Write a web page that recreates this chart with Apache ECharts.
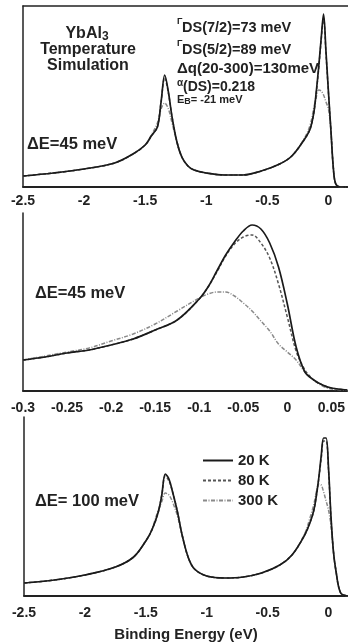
<!DOCTYPE html>
<html>
<head>
<meta charset="utf-8">
<script src="https://cdn.jsdelivr.net/npm/echarts@6/dist/echarts.min.js"></script>
<style>
  html, body { margin: 0; padding: 0; background: #fff; }
  #chart { width: 348px; height: 642px; }
</style>
</head>
<body>
<div id="chart"></div>
<script>
// energy grids (eV)
var wideEnergy = [-2.5, -2.25, -2.0, -1.75, -1.6, -1.5, -1.45, -1.4, -1.37, -1.34, -1.31, -1.28, -1.24, -1.2, -1.15, -1.1, -1.0, -0.85, -0.7, -0.55, -0.4, -0.3, -0.2, -0.15, -0.12, -0.1, -0.08, -0.06, -0.04, -0.02, 0.0, 0.02, 0.04, 0.06, 0.1, 0.16]
var narrowEnergy = [-0.3, -0.275, -0.25, -0.225, -0.2, -0.175, -0.15, -0.125, -0.1, -0.09, -0.08, -0.07, -0.06, -0.05, -0.04, -0.03, -0.02, -0.01, 0.0, 0.01, 0.02, 0.03, 0.04, 0.05, 0.068]

// intensities (arb. units), top panel  dE=45 meV
var top20K = [11, 14, 18, 24, 33, 42, 51, 60, 85, 112, 95, 70, 45, 30, 21, 17, 14, 12, 12, 16, 23, 31, 47, 58, 74, 95, 120, 148, 173, 135, 95, 57, 19, 3, 0, 0]
var top80K = [11, 14, 18, 24, 33, 42, 51, 60, 85, 109, 94, 70, 45, 30, 21, 17, 14, 12, 12, 16, 23, 31, 47, 58, 74, 94, 118, 146, 169, 133, 94, 57, 19, 3, 0, 0]
var top300K = [11, 14, 18, 24, 33, 42, 52, 64, 78, 84, 78, 64, 45, 30, 21, 17, 14, 12, 12, 16, 23, 31, 48, 62, 79, 90, 97, 96, 92, 85, 78, 57, 19, 3, 0, 0]

// middle panel (zoom on the Kondo peak)
var mid20K = [31, 34, 38, 41, 46, 52, 61, 71, 92, 104, 120, 136, 149, 160, 166, 162, 148, 124, 87, 44, 19, 11, 6, 3, 1]
var mid80K = [31, 34, 38, 41, 46, 52, 61, 71, 92, 104, 119, 135, 147, 154, 156, 148, 133, 107, 74, 40, 21, 11, 6, 3, 1]
var mid300K = [31, 35, 39, 43, 50, 57, 67, 80, 93, 97, 99, 99, 95, 88, 80, 70, 60, 47, 39, 31, 19, 11, 5, 2, 1]

// bottom panel  dE=100 meV
var bot20K = [13, 16, 21, 29, 39, 55, 66, 83, 100, 122, 117, 104, 84, 60, 38, 27, 20, 18, 19, 23, 31, 41, 60, 74, 86, 100, 118, 140, 158, 158, 128, 80, 45, 26, 3, 0]
var bot80K = [13, 16, 21, 29, 39, 55, 66, 83, 100, 120, 115, 104, 84, 60, 38, 27, 20, 18, 19, 23, 31, 41, 60, 74, 86, 100, 117, 137, 155, 155, 126, 79, 45, 26, 3, 0]
var bot300K = [13, 16, 21, 29, 39, 55, 67, 85, 94, 103, 101, 94, 80, 60, 38, 27, 20, 18, 19, 23, 31, 41, 61, 79, 92, 104, 112, 111, 104, 95, 86, 71, 45, 26, 3, 0]

var legendNames = ['20 K', '80 K', '300 K']

var ink = '#222'
var family = 'Liberation Sans, Arial, sans-serif'
var labelFont = { color: ink, fontSize: 14, fontWeight: 'bold', fontFamily: family }
var styles = {
  '20 K': { color: '#1a1a1a', width: 1.7, type: 'solid' },
  '80 K': { color: '#555', width: 1.5, type: [3, 2] },
  '300 K': { color: '#8a8a8a', width: 1.5, type: [4, 1.5, 1, 1.5] }
}

function pairs(xs, ys) {
  return xs.map(function (x, i) { return [x, ys[i]] })
}

function curve(name, idx, xs, ys) {
  return {
    name: name,
    type: 'line',
    xAxisIndex: idx,
    yAxisIndex: idx,
    data: pairs(xs, ys),
    showSymbol: false,
    symbol: 'none',
    smooth: 0.35,
    lineStyle: styles[name],
    itemStyle: { color: styles[name].color },
    z: name === '20 K' ? 5 : 4
  }
}

function bottomAxis(idx, min, max, interval, margin) {
  return {
    type: 'value', gridIndex: idx, position: 'bottom',
    min: min, max: max, interval: interval,
    axisLine: { show: true, onZero: false, lineStyle: { color: ink, width: 1.8 } },
    axisTick: { show: false },
    splitLine: { show: false },
    axisLabel: Object.assign({ margin: margin, showMaxLabel: false }, labelFont)
  }
}

function sideAxis(idx, max) {
  return {
    type: 'value', gridIndex: idx, position: 'left', min: 0, max: max,
    axisLine: { show: true, onZero: false, lineStyle: { color: ink, width: 1.5 } },
    axisTick: { show: false }, axisLabel: { show: false }, splitLine: { show: false }
  }
}

function note(x, y, text, size, align) {
  return {
    type: 'text', x: x, y: y,
    style: {
      text: text, fill: ink, align: align || 'left', verticalAlign: 'middle',
      fontSize: size, fontWeight: 'bold', fontFamily: family
    }
  }
}

var chart = echarts.init(document.getElementById('chart'))

var topBorder = {
  type: 'value', gridIndex: 0, position: 'top', min: -2.5, max: 0.16,
  axisLine: { show: true, onZero: false, lineStyle: { color: ink, width: 1.5 } },
  axisTick: { show: false }, axisLabel: { show: false }, splitLine: { show: false }
}

chart.setOption({
  backgroundColor: '#fff',
  animation: false,
  grid: [
    { left: 23, right: 0, top: 6, height: 181 },
    { left: 23, right: 0, top: 213, height: 178 },
    { left: 24, right: 0, top: 417, height: 179 }
  ],
  xAxis: [
    bottomAxis(0, -2.5, 0.16, 0.5, 7),
    bottomAxis(1, -0.3, 0.068, 0.05, 10),
    bottomAxis(2, -2.5, 0.16, 0.5, 10),
    topBorder
  ],
  yAxis: [sideAxis(0, 181), sideAxis(1, 178), sideAxis(2, 179)],
  legend: {
    data: legendNames,
    orient: 'vertical',
    left: 197, top: 448,
    itemWidth: 30, itemHeight: 14, itemGap: 5,
    itemStyle: { opacity: 0 },
    textStyle: Object.assign({}, labelFont, { fontSize: 15 })
  },
  series: [
    curve('300 K', 0, wideEnergy, top300K),
    curve('80 K', 0, wideEnergy, top80K),
    curve('20 K', 0, wideEnergy, top20K),
    curve('300 K', 1, narrowEnergy, mid300K),
    curve('80 K', 1, narrowEnergy, mid80K),
    curve('20 K', 1, narrowEnergy, mid20K),
    curve('300 K', 2, wideEnergy, bot300K),
    curve('80 K', 2, wideEnergy, bot80K),
    curve('20 K', 2, wideEnergy, bot20K)
  ],
  graphic: [
    {
      type: 'text', x: 87, y: 34,
      style: {
        text: 'YbAl{s|3}', fill: ink, align: 'center', verticalAlign: 'middle',
        fontSize: 16, fontWeight: 'bold', fontFamily: family,
        rich: { s: { fontSize: 12, fontWeight: 'bold', padding: [6, 0, 0, 0], fill: ink } }
      }
    },
    note(88, 50, 'Temperature', 16, 'center'),
    note(88, 66, 'Simulation', 16, 'center'),
    note(27, 144, 'ΔE=45 meV', 16.5),
    note(177, 22, 'Γ', 9),
    note(182, 28, 'DS(7/2)=73 meV', 14.5),
    note(177, 44, 'Γ', 9),
    note(182, 50, 'DS(5/2)=89 meV', 14.5),
    note(177, 69, 'Δq(20-300)=130meV', 15),
    note(177, 83, 'α', 10),
    note(183, 87, '(DS)=0.218', 14),
    {
      type: 'text', x: 177, y: 100,
      style: {
        text: 'E{s|B}= -21 meV', fill: ink, align: 'left', verticalAlign: 'middle',
        fontSize: 11, fontWeight: 'bold', fontFamily: family,
        rich: { s: { fontSize: 9, fontWeight: 'bold', padding: [4, 0, 0, 0], fill: ink } }
      }
    },
    note(35, 293, 'ΔE=45 meV', 16.5),
    note(35, 501, 'ΔE= 100 meV', 16.5),
    note(186, 635, 'Binding Energy (eV)', 15, 'center')
  ]
})
</script>
</body>
</html>
